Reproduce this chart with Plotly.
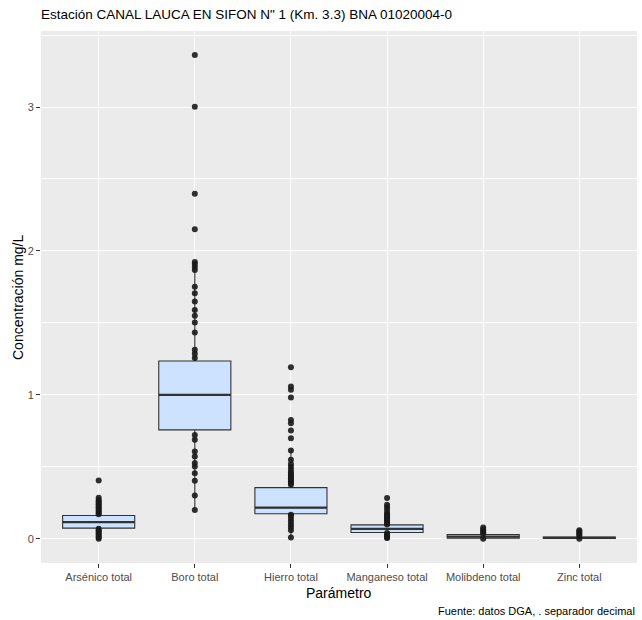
import plotly.graph_objects as go

categories = ["Arsénico total", "Boro total", "Hierro total", "Manganeso total",
              "Molibdeno total", "Zinc total"]

# box statistics (mg/L)
q1 = [0.074, 0.757, 0.174, 0.044, 0.004, 0.003]
median = [0.116, 1.000, 0.217, 0.069, 0.015, 0.007]
q3 = [0.162, 1.235, 0.356, 0.097, 0.030, 0.012]
lowerfence = [0.000, 0.200, 0.010, 0.005, 0.000, 0.000]
upperfence = [0.285, 1.924, 0.620, 0.180, 0.070, 0.025]

# individual observations drawn as points (outside the boxes)
pts_arsenico = [0.00, 0.01, 0.02, 0.03, 0.04, 0.05, 0.06, 0.07,
                0.17, 0.18, 0.19, 0.20, 0.21, 0.22, 0.23, 0.24, 0.25, 0.26, 0.27, 0.285, 0.405]
pts_boro = [0.201, 0.301, 0.403, 0.456, 0.502, 0.526, 0.572, 0.606, 0.688, 0.722,
            1.257, 1.285, 1.313, 1.433, 1.502, 1.549, 1.590, 1.648, 1.706, 1.752,
            1.868, 1.889, 1.910, 1.924, 2.151, 2.398, 3.002, 3.361]
pts_hierro = [0.010, 0.06, 0.08, 0.10, 0.12, 0.14, 0.16, 0.167,
              0.375, 0.39, 0.40, 0.41, 0.42, 0.43, 0.44, 0.45, 0.46, 0.48, 0.50, 0.52,
              0.549, 0.613, 0.699, 0.752, 0.803, 0.826, 0.981, 1.035, 1.058, 1.192]
pts_manganeso = [0.005, 0.01, 0.02, 0.03, 0.04,
                 0.10, 0.11, 0.12, 0.13, 0.14, 0.15, 0.16, 0.17, 0.18, 0.201, 0.22, 0.236, 0.283]
pts_molibdeno = [0.000, 0.035, 0.045, 0.055, 0.065, 0.078]
pts_zinc = [0.000, 0.02, 0.03, 0.04, 0.05, 0.06]

point_groups = [pts_arsenico, pts_boro, pts_hierro, pts_manganeso, pts_molibdeno, pts_zinc]

px_x, px_y = [], []
for cat, vals in zip(categories, point_groups):
    px_x += [cat] * len(vals)
    px_y += vals

fig = go.Figure()
fig.add_trace(go.Box(
    x=categories, q1=q1, median=median, q3=q3,
    lowerfence=lowerfence, upperfence=upperfence,
    boxpoints=False, width=0.75,
    fillcolor="#CCE2FF", line=dict(color="#333333", width=1.1),
    whiskerwidth=0, showlegend=False, hoverinfo="skip",
))
# thicker median bar (ggplot fatten)
fig.add_trace(go.Box(
    x=categories, q1=median, median=median, q3=median,
    lowerfence=median, upperfence=median,
    boxpoints=False, width=0.75,
    fillcolor="rgba(0,0,0,0)", line=dict(color="#333333", width=2.2),
    whiskerwidth=0, showlegend=False, hoverinfo="skip",
))
fig.add_trace(go.Scatter(
    x=px_x, y=px_y, mode="markers",
    marker=dict(color="#1a1a1a", size=6, opacity=0.9),
    showlegend=False, hoverinfo="skip",
))

font_family = "Arial, Liberation Sans, sans-serif"
fig.update_layout(
    width=642, height=620,
    margin=dict(l=41, r=5, t=31, b=57, autoexpand=False),
    boxmode="overlay",
    paper_bgcolor="white", plot_bgcolor="#EBEBEB",
    font=dict(family=font_family, color="black"),
    title=dict(text="Estación CANAL LAUCA EN SIFON N\" 1 (Km. 3.3) BNA 01020004-0",
               x=41 / 642, xanchor="left", y=1 - 14 / 620, yanchor="middle",
               font=dict(size=13.5, color="black")),
    xaxis=dict(
        type="category", categoryorder="array", categoryarray=categories,
        range=[-0.6, 5.6], showgrid=True, gridcolor="white", gridwidth=1.1,
        ticks="outside", ticklen=4, tickcolor="#333333", tickwidth=1,
        tickfont=dict(size=11, color="#4D4D4D"), zeroline=False, showline=False,
        automargin=False,
    ),
    yaxis=dict(
        range=[-0.168, 3.528], tickvals=[0, 1, 2, 3], ticktext=["0", "1", "2", "3"],
        showgrid=True, gridcolor="white", gridwidth=1.1,
        minor=dict(dtick=0.5, tick0=0.5, showgrid=True, gridcolor="white", gridwidth=0.5, ticks=""),
        ticks="outside", ticklen=4, tickcolor="#333333", tickwidth=1,
        tickfont=dict(size=11, color="#4D4D4D"), zeroline=False, showline=False,
        automargin=False,
    ),
    annotations=[
        dict(text="Parámetro", xref="paper", yref="paper", x=0.5, y=-(593 - 563) / 532,
             xanchor="center", yanchor="middle", showarrow=False,
             font=dict(size=14, color="black")),
        dict(text="Concentración mg/L", xref="paper", yref="paper",
             x=-(41 - 18) / 596, y=0.5, xanchor="center", yanchor="middle",
             textangle=-90, showarrow=False, font=dict(size=14, color="black")),
        dict(text="Fuente: datos DGA, . separador decimal", xref="paper", yref="paper",
             x=1, y=-(611 - 563) / 532, xanchor="right", yanchor="middle", showarrow=False,
             font=dict(size=11, color="black")),
    ],
)

fig.write_html("out.html", config={"displayModeBar": False},
               post_script="document.body.style.margin='0';document.body.style.overflow='hidden';")
